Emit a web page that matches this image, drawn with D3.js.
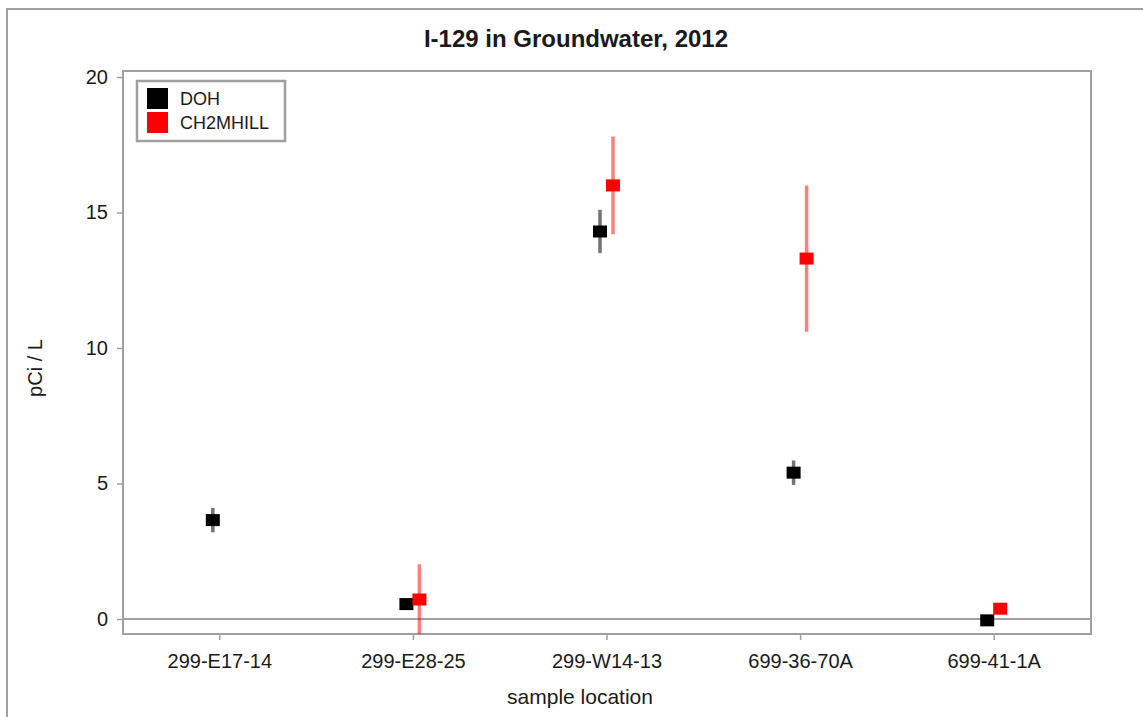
<!DOCTYPE html>
<html>
<head>
<meta charset="utf-8">
<script src="https://cdn.jsdelivr.net/npm/d3@7"></script>
<style>
  body { margin: 0; background: #fff; }
  text { font-family: "Liberation Sans", Arial, sans-serif; fill: #1a1a1a; }
</style>
</head>
<body>
<div id="chart"></div>
<script>
// data
const locations = ["299-E17-14", "299-E28-25", "299-W14-13", "699-36-70A", "699-41-1A"];
const labs = ["DOH", "CH2MHILL"];
const labColors = ["#000000", "#ff0000"];
const barColors = ["rgba(0,0,0,0.55)", "rgba(255,0,0,0.5)"];
// value and +/- uncertainty per location (null = no sample)
const dohValues = [3.65, 0.55, 14.3, 5.4, -0.05];
const dohErrors = [0.45, 0.2, 0.8, 0.45, 0.1];
const chValues = [null, 0.72, 16.0, 13.3, 0.38];
const chErrors = [null, 1.3, 1.8, 2.7, 0.1];
const yTicks = [0, 5, 10, 15, 20];

const width = 1143, height = 717;
const plot = { left: 123, top: 71, right: 1091, bottom: 634 };

const svg = d3.select("#chart").append("svg")
    .attr("width", width)
    .attr("height", height);

// outer frame (top and left edges only)
svg.append("path")
    .attr("d", `M7,${height} V9 H${width}`)
    .attr("fill", "none")
    .attr("stroke", "#a0a0a0")
    .attr("stroke-width", 2);

const x = d3.scaleBand()
    .domain(locations)
    .range([plot.left, plot.right]);

const y = d3.scaleLinear()
    .domain([0, 20])
    .range([619, 77]);

// clip for the error bars
svg.append("clipPath").attr("id", "plotclip")
    .append("rect")
    .attr("x", plot.left).attr("y", plot.top)
    .attr("width", plot.right - plot.left)
    .attr("height", plot.bottom - plot.top);

// zero reference line
svg.append("line")
    .attr("x1", plot.left).attr("x2", plot.right)
    .attr("y1", y(0)).attr("y2", y(0))
    .attr("stroke", "#a0a0a0")
    .attr("stroke-width", 2);

// plot frame
svg.append("rect")
    .attr("x", plot.left).attr("y", plot.top)
    .attr("width", plot.right - plot.left)
    .attr("height", plot.bottom - plot.top)
    .attr("fill", "none")
    .attr("stroke", "#a0a0a0")
    .attr("stroke-width", 2);

// axes
const yAxis = svg.append("g")
    .attr("transform", `translate(${plot.left},0)`)
    .call(d3.axisLeft(y).tickValues(yTicks).tickSize(6).tickPadding(9));
const xAxis = svg.append("g")
    .attr("transform", `translate(0,${plot.bottom})`)
    .call(d3.axisBottom(x).tickSize(6).tickPadding(14));

[yAxis, xAxis].forEach(g => {
    g.select(".domain").remove();
    g.selectAll(".tick line").attr("stroke", "#a0a0a0").attr("stroke-width", 1.5);
    g.selectAll(".tick text").style("font-size", "20px").attr("fill", "#1a1a1a");
});

// series
const series = [
    { values: dohValues, errors: dohErrors, offset: -7 },
    { values: chValues, errors: chErrors, offset: 6 }
];

series.forEach((s, i) => {
    const pts = locations.map((loc, j) => ({ loc, v: s.values[j], e: s.errors[j] }))
        .filter(d => d.v !== null);
    const cx = d => x(d.loc) + x.bandwidth() / 2 + s.offset;

    svg.append("g").attr("clip-path", "url(#plotclip)")
        .selectAll("line")
        .data(pts)
        .enter()
        .append("line")
        .attr("x1", cx).attr("x2", cx)
        .attr("y1", d => y(d.v - d.e))
        .attr("y2", d => y(d.v + d.e))
        .attr("stroke", barColors[i])
        .attr("stroke-width", 3.5);

    svg.append("g")
        .selectAll("rect")
        .data(pts)
        .enter()
        .append("rect")
        .attr("x", d => cx(d) - 7)
        .attr("y", d => y(d.v) - 6)
        .attr("width", 14)
        .attr("height", 12)
        .attr("fill", labColors[i]);
});

// legend
const legend = svg.append("g");
legend.append("rect")
    .attr("x", 137).attr("y", 81)
    .attr("width", 148).attr("height", 60)
    .attr("fill", "#fff")
    .attr("stroke", "#a0a0a0")
    .attr("stroke-width", 2.5);
labs.forEach((lab, i) => {
    legend.append("rect")
        .attr("x", 147).attr("y", 88 + i * 24)
        .attr("width", 21).attr("height", 21)
        .attr("fill", labColors[i]);
    legend.append("text")
        .attr("x", 180).attr("y", 105 + i * 24)
        .style("font-size", "18px")
        .text(lab);
});

// titles
svg.append("text")
    .attr("x", 576).attr("y", 47)
    .attr("text-anchor", "middle")
    .style("font-size", "24px")
    .style("font-weight", "bold")
    .text("I-129 in Groundwater, 2012");

svg.append("text")
    .attr("x", 580).attr("y", 704)
    .attr("text-anchor", "middle")
    .style("font-size", "21px")
    .text("sample location");

svg.append("text")
    .attr("transform", `translate(42,368) rotate(-90)`)
    .attr("text-anchor", "middle")
    .style("font-size", "20px")
    .text("pCi / L");
</script>
</body>
</html>
